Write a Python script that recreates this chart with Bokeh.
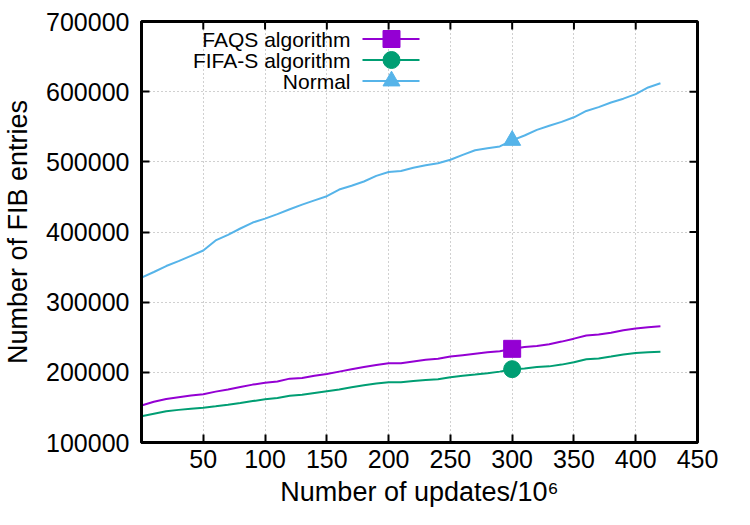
from bokeh.plotting import figure
from bokeh.models import FixedTicker
from bokeh.core.properties import value
from bokeh.embed import file_html
from bokeh.resources import INLINE

# Number of updates (millions), sampled every 10
updates = list(range(0, 430, 10))

# FIB entry counts per scheme
faqs = [152700, 158000, 162000, 164500, 167000, 168800, 172500, 175500, 179000, 182500,
        185000, 187000, 191000, 191800, 195000, 197500, 201000, 204500, 207500, 210500,
        213000, 213000, 215500, 218000, 219300, 222500, 224500, 226500, 228500, 230000,
        233500, 236000, 237500, 240000, 243800, 248000, 252500, 254000, 256500, 260000,
        262500, 264200, 265700]
fifa_s = [137500, 141000, 144500, 146500, 148200, 149400, 151500, 153700, 156300, 159000,
          161500, 163300, 166500, 167900, 170500, 173000, 175500, 178800, 181500, 184000,
          186000, 186000, 187800, 189200, 190000, 193100, 195000, 196800, 198800, 201000,
          204500, 205500, 207500, 208500, 211000, 214500, 218700, 219800, 222500, 225500,
          227500, 228500, 229400]
normal = [335000, 343000, 351500, 358500, 366000, 373600, 388000, 396000, 405000, 413500,
          419000, 425500, 432500, 439000, 445000, 451000, 460500, 466000, 472000, 480000,
          485500, 487000, 491500, 495000, 498000, 503000, 510000, 516500, 519500, 522000,
          530500, 537500, 545500, 551500, 557000, 563500, 572500, 578000, 584500, 590000,
          596500, 606000, 612000]

series_names = ["FAQS algorithm", "FIFA-S algorithm", "Normal"]
series_colors = ["#9400d3", "#009e73", "#56b4e9"]
series_markers = ["square", "circle", "triangle"]

x_ticks = [50, 100, 150, 200, 250, 300, 350, 400, 450]
y_ticks = [100000, 200000, 300000, 400000, 500000, 600000, 700000]
marked_update = 300

X0, X1 = 0, 450
Y0, Y1 = 100000, 700000
W, H = 750, 525
LEFT, RIGHT, TOP, BOTTOM = 141, 697, 21, 442   # frame edges in page pixels
TICK_LEN = 8

FONT = "Liberation Sans"

p = figure(width=W, height=H, x_range=(X0, X1), y_range=(Y0, Y1),
           output_backend="svg", toolbar_location=None,
           min_border_left=LEFT, min_border_right=W - RIGHT,
           min_border_top=TOP, min_border_bottom=H - BOTTOM)
p.background_fill_color = "white"
p.border_fill_color = "white"
p.outline_line_color = "black"
p.outline_line_width = 3

xt = FixedTicker(ticks=x_ticks)
yt = FixedTicker(ticks=y_ticks)
p.xaxis.ticker = xt
p.yaxis.ticker = yt
p.xgrid.ticker = xt
p.ygrid.ticker = yt
for g in (p.xgrid, p.ygrid):
    g.grid_line_color = "#a0a0a0"
    g.grid_line_dash = "1 3"
    g.grid_line_width = 1

p.yaxis.formatter.use_scientific = False

for ax in (p.xaxis, p.yaxis):
    ax.axis_line_width = 3
    ax.major_tick_in = TICK_LEN
    ax.major_tick_out = 0
    ax.major_tick_line_width = 2
    ax.minor_tick_line_color = None
    ax.major_label_text_font = FONT
    ax.major_label_text_font_size = "25px"
    ax.major_label_text_color = "black"
    ax.axis_label_text_font = FONT
    ax.axis_label_text_font_size = "27px"
    ax.axis_label_text_font_style = "normal"
    ax.axis_label_text_color = "black"

p.xaxis.axis_label = "Number of updates/10\u2076"
p.yaxis.axis_label = "Number of FIB entries"
p.xaxis.major_label_standoff = 7
p.yaxis.major_label_standoff = 12
p.xaxis.axis_label_standoff = 6
p.yaxis.axis_label_standoff = 10


def to_data(px, py):
    x = X0 + (px - LEFT) / (RIGHT - LEFT) * (X1 - X0)
    y = Y1 - (py - TOP) / (BOTTOM - TOP) * (Y1 - Y0)
    return x, y


# mirrored inward ticks along the top and right edges
dy = TICK_LEN / (BOTTOM - TOP) * (Y1 - Y0)
dx = TICK_LEN / (RIGHT - LEFT) * (X1 - X0)
top_ticks = [t for t in x_ticks if X0 < t < X1]
right_ticks = [t for t in y_ticks if Y0 < t < Y1]
p.segment(x0=top_ticks, y0=[Y1] * len(top_ticks), x1=top_ticks,
          y1=[Y1 - dy] * len(top_ticks), line_color="black", line_width=2)
p.segment(x0=[X1] * len(right_ticks), y0=right_ticks, x1=[X1 - dx] * len(right_ticks),
          y1=right_ticks, line_color="black", line_width=2)

# data lines with a single marker at the marked update count
idx = updates.index(marked_update)
for vals, color, marker in zip((faqs, fifa_s, normal), series_colors, series_markers):
    p.line(updates, vals, line_color=color, line_width=2)
    p.scatter([updates[idx]], [vals[idx]], marker=marker, size=17,
              fill_color=color, line_color=color)

# key: right-aligned text followed by a line sample and its marker
rows = [38.5, 59.5, 80.5]
for name, color, marker, py in zip(series_names, series_colors, series_markers, rows):
    tx, ty = to_data(350, py)
    p.text([tx], [ty], text=[name], text_align="right", text_baseline="middle",
           text_font=value(FONT), text_font_size="21px", text_color="black")
    lx0, ly = to_data(362, py)
    lx1, _ = to_data(419, py)
    mx, _ = to_data(391, py)
    p.line([lx0, lx1], [ly, ly], line_color=color, line_width=2)
    p.scatter([mx], [ly], marker=marker, size=17, fill_color=color, line_color=color)

open("out.html", "w").write(file_html(p, INLINE))
